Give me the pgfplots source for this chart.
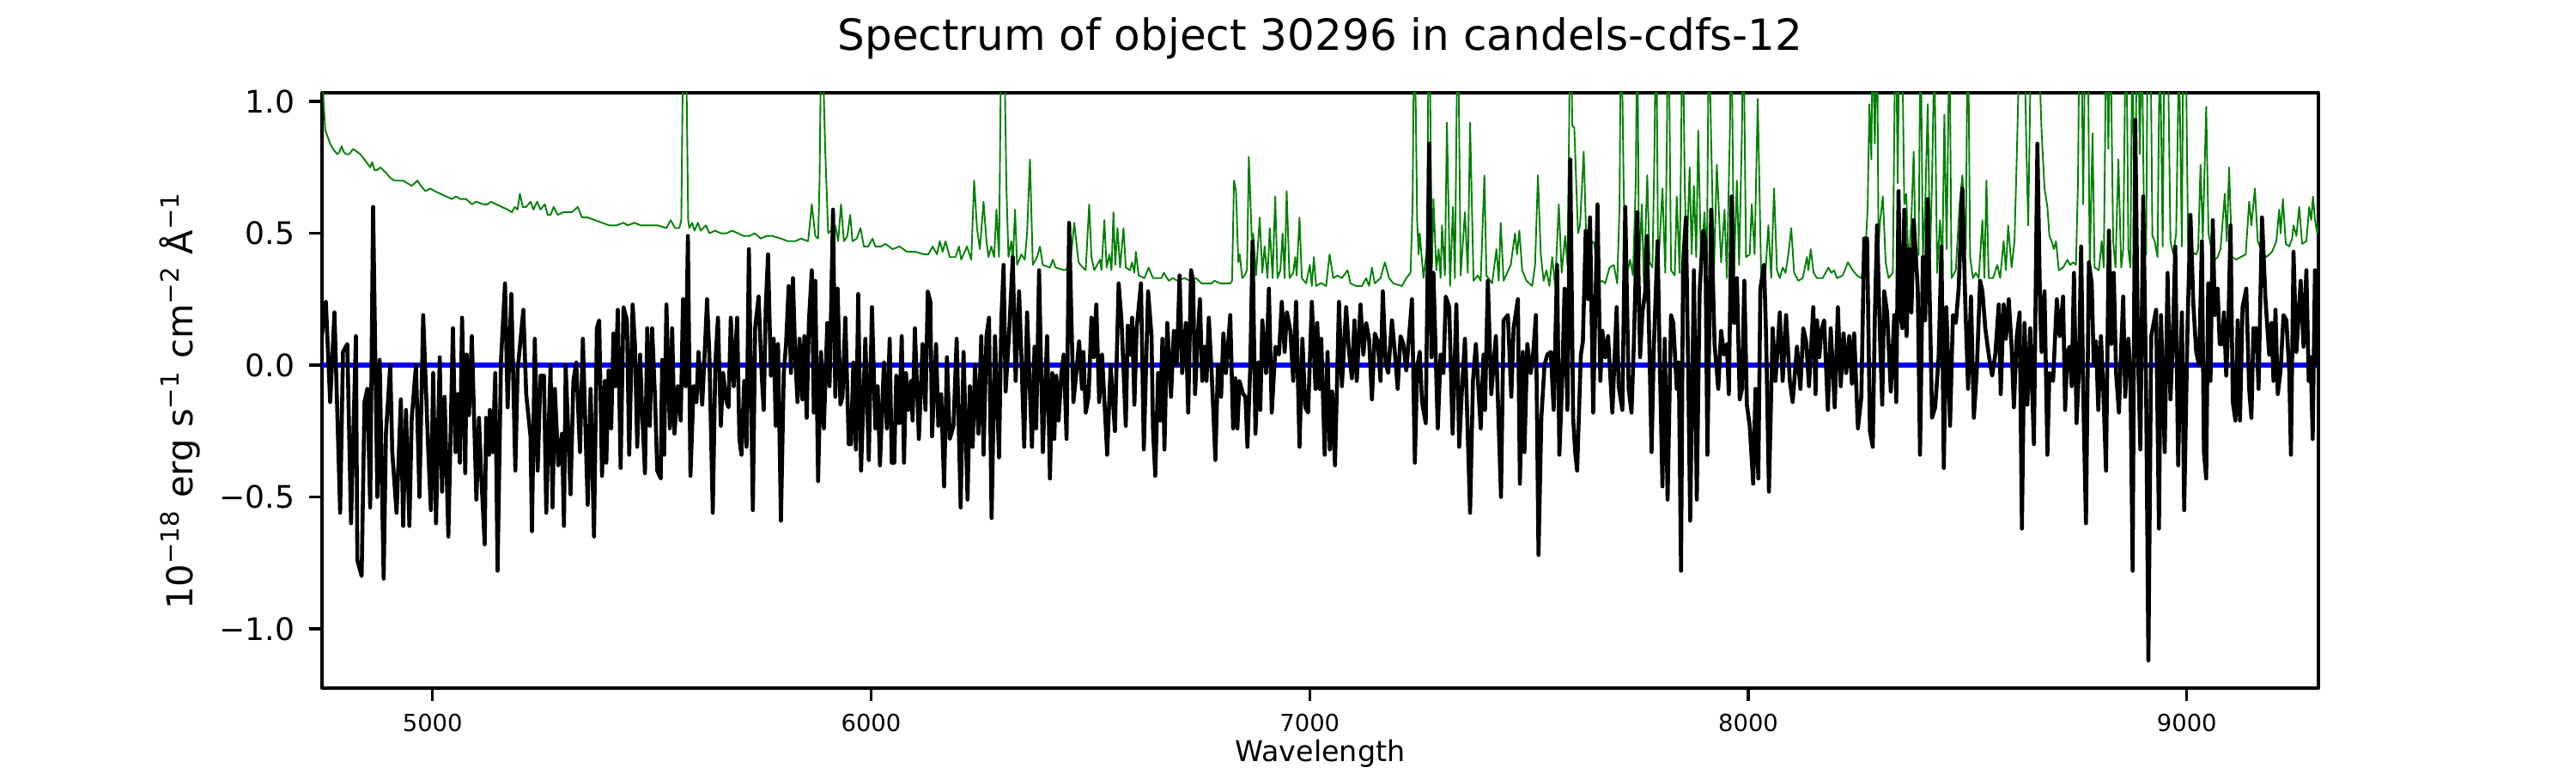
\documentclass[border=0pt]{standalone}
\usepackage{fontspec}
\setmainfont{DejaVu Sans}
\usepackage{pgfplots}
\pgfplotsset{compat=1.18}
\definecolor{mplgreen}{rgb}{0,0.5,0}
\begin{document}
\begin{tikzpicture}
\useasboundingbox (0,0) rectangle (10in,3in);
\begin{axis}[
  at={(1.25in,0.33in)}, anchor=south west,
  scale only axis, width=7.75in, height=2.31in,
  xmin=4748, xmax=9300, ymin=-1.225, ymax=1.033,
  axis line style={line width=0.8bp},
  tick align=outside, tick pos=left,
  major tick length=3.5bp,
  every tick/.style={black, line width=0.8bp},
  /pgf/number format/assume math mode=true,
  xtick={5000,6000,7000,8000,9000},
  xticklabels={5000,6000,7000,8000,9000},
  ytick={-1,-0.5,0,0.5,1},
  yticklabels={−1.0,−0.5,0.0,0.5,1.0},
  xticklabel style={font=\fontsize{6.6}{7}\selectfont, inner sep=0pt, anchor=base, yshift=-8.7bp},
  yticklabel style={font=\fontsize{8.7}{10}\selectfont, inner sep=0pt, anchor=east, xshift=-3.9bp},
  title={Spectrum of object 30296 in candels-cdfs-12},
  title style={at={(0.5,1)}, anchor=base, yshift=6bp, inner sep=0pt, font=\fontsize{12.05}{14}\selectfont},
  xlabel={Wavelength},
  xlabel style={at={(0.5,0)}, anchor=base, yshift=-20.4bp, inner sep=0pt, font=\fontsize{8.03}{9}\selectfont},
  ylabel={10\textsuperscript{−18} erg s\textsuperscript{−1} cm\textsuperscript{−2} Å\textsuperscript{−1}},
  ylabel style={at={(-0.0714,0.4834)}, anchor=center, inner sep=0pt, font=\fontsize{10.04}{12}\selectfont},
  line join=round,
]
% error / noise spectrum
\addplot[mplgreen, line width=0.45bp, line join=round, mark=none] coordinates {
(4747,1.20) (4751.6,1.00) (4755.5,0.89) (4760,0.87) (4766.6,0.84) (4773,0.82) (4782.9,0.80) (4788,0.81) (4792.7,0.83) (4797.2,0.81) (4802.5,0.80) (4810.3,0.80) (4818.8,0.82) (4827.3,0.81) (4835.1,0.80) (4844.9,0.78) (4857.9,0.75) (4862.5,0.77) (4867.7,0.74) (4874.2,0.74) (4880.8,0.75) (4893.8,0.73) (4903.6,0.71) (4913.4,0.70) (4919.9,0.70) (4933,0.70) (4942.8,0.69) (4952.6,0.68) (4965.6,0.70) (4973.4,0.68) (4983.9,0.66) (4995,0.67) (5004.8,0.66) (5017.8,0.65) (5030.9,0.64) (5043.9,0.63) (5053.7,0.64) (5063.5,0.63) (5076.6,0.63) (5089.6,0.61) (5099.4,0.62) (5115.7,0.61) (5125.5,0.61) (5133.3,0.62) (5145,0.61) (5158.1,0.60) (5171.2,0.59) (5181,0.58) (5187.5,0.60) (5194,0.59) (5199.2,0.65) (5205.8,0.60) (5213.6,0.60) (5223.4,0.62) (5230,0.59) (5238.4,0.62) (5246.2,0.59) (5256,0.61) (5262.5,0.57) (5269.1,0.57) (5276.2,0.60) (5285.4,0.57) (5298.4,0.58) (5311.5,0.58)
(5318,0.58) (5331,0.60) (5340.8,0.56) (5353.8,0.56) (5370.2,0.55) (5386.5,0.54) (5402.8,0.53) (5419.1,0.53) (5435.4,0.54) (5445.2,0.53) (5460.2,0.54) (5474.6,0.53) (5487.6,0.53) (5500.7,0.53) (5513.7,0.53) (5533.3,0.52) (5543.1,0.55) (5552.9,0.52) (5562.7,0.52) (5567.2,0.55) (5571.2,1.2) (5575.1,1.6) (5579,1.1) (5582.9,0.55) (5585.5,0.52) (5592,0.54) (5597.3,0.51) (5605.1,0.54) (5611.6,0.51) (5623.4,0.53) (5631.2,0.50) (5644.2,0.51) (5657.3,0.50) (5670.4,0.50) (5683,0.51) (5696.5,0.50) (5709,0.49) (5722.6,0.49) (5735,0.50) (5748,0.48) (5761.7,0.49) (5775,0.49) (5794.4,0.48) (5810,0.47) (5827,0.47) (5840,0.48) (5856.4,0.47) (5864.8,0.61) (5872.7,0.49) (5879.2,0.48)
(5882.5,0.70) (5887.1,1.4) (5891,1.1) (5895.5,0.81) (5902.1,0.50) (5908.6,0.51) (5915.1,0.49) (5918.4,0.53) (5924.9,0.47) (5931.4,0.61) (5938,0.47) (5945.8,0.49) (5952.3,0.57) (5957.5,0.47) (5967.3,0.48) (5975.8,0.52) (5983.6,0.45) (5993.4,0.45) (6003.2,0.48) (6009.7,0.45) (6022.8,0.45) (6032.6,0.46) (6048.9,0.44) (6065.2,0.45) (6081.5,0.43) (6101.1,0.43) (6120.7,0.42) (6130.5,0.42) (6140.3,0.45) (6150.1,0.42) (6156.6,0.47) (6163.1,0.43) (6169.6,0.47) (6179.4,0.41) (6192.5,0.41) (6200.3,0.45) (6205.5,0.40) (6218.6,0.45) (6228.4,0.40) (6234.9,0.70) (6241.4,0.52) (6248,0.44) (6256.4,0.62) (6263,0.47) (6267.5,0.41) (6274.1,0.45) (6280.6,0.41) (6285.8,0.59) (6291.7,0.41) (6296.9,1.3) (6300.8,1.7) (6304.7,1.1) (6308.6,0.67) (6313.2,0.41) (6319.7,0.47) (6323,0.39) (6328.2,0.59) (6332.8,0.38) (6342.6,0.42) (6350.4,0.40) (6355.6,0.50) (6362.2,0.78) (6368.7,0.38) (6378.5,0.41) (6385,0.45) (6391.5,0.38) (6407.8,0.37) (6414.4,0.40) (6420.9,0.37) (6440.5,0.36) (6453.5,0.37)
(6463.2,0.54) (6473,0.39) (6482.8,0.37) (6489.3,0.36) (6497.2,0.61) (6502.4,0.41) (6508.9,0.36) (6522,0.40) (6525.2,0.36) (6531.8,0.55) (6537,0.37) (6543.5,0.42) (6548.1,0.36) (6552.6,0.58) (6556.6,0.38) (6561.8,0.52) (6567.7,0.37) (6575.5,0.52) (6580.7,0.37) (6590.5,0.36) (6595.1,0.39) (6600.3,0.35) (6603.6,0.43) (6610.1,0.34) (6623.1,0.33) (6632.9,0.37) (6642.7,0.33) (6662.3,0.33) (6667.5,0.35) (6678.6,0.32) (6688.4,0.33) (6698.2,0.32) (6714.5,0.33) (6727.5,0.32) (6740.6,0.33) (6753.6,0.31) (6776.5,0.31) (6783,0.32) (6796.1,0.31) (6818.9,0.31) (6823,0.32) (6827.4,0.70) (6832,0.66) (6837.2,0.39) (6840.5,0.42) (6846.3,0.33) (6851.5,0.34) (6857,0.36) (6861.3,0.79) (6867.9,0.48) (6871.1,0.50) (6877.6,0.34) (6886.1,0.56) (6892,0.35) (6897.2,0.45) (6903.7,0.33) (6909,0.52) (6915.5,0.33) (6921.4,0.64) (6926.6,0.33) (6933.1,0.36) (6938.3,0.50) (6942.9,0.33) (6947.5,0.66) (6954,0.33) (6962.5,0.35) (6967.1,0.41) (6970.3,0.34) (6976.8,0.56) (6982.1,0.33) (6991.8,0.31) (7000.3,0.38) (7004.9,0.30) (7009.5,0.41) (7014.7,0.30) (7024.5,0.31)
(7027.7,0.31) (7037.5,0.30) (7045.3,0.42) (7053.8,0.33) (7063.6,0.34) (7073.4,0.33) (7086.4,0.36) (7093,0.31) (7106,0.30) (7119,0.30) (7128.8,0.33) (7135.4,0.30) (7141.9,0.37) (7148.4,0.31) (7161.5,0.33) (7171.3,0.39) (7181,0.33) (7190.8,0.31) (7210.4,0.30) (7220.2,0.33) (7230,0.35) (7234.5,0.60) (7237.8,1.2) (7241.7,1.0) (7245,0.55) (7248.3,0.42) (7250.9,0.50) (7259.4,0.33) (7267.8,0.45) (7272.4,1.6) (7275.7,0.84) (7278.9,0.37) (7282.2,0.63) (7288.7,0.36) (7293.9,0.44) (7298.5,0.33) (7301.8,0.53) (7308.3,0.34) (7312.9,0.92) (7320,0.30) (7326.6,0.60) (7331.1,0.33) (7337.7,1.4) (7344.2,0.34) (7354,0.58) (7360.5,0.35) (7365.7,0.92) (7373.6,0.32) (7383.3,0.34) (7389.9,0.32) (7398.4,0.72) (7402.9,0.34) (7416,0.31) (7425.8,0.44) (7431,0.32) (7435.5,0.54) (7442.1,0.32) (7458.4,0.38) (7468.2,0.50) (7472.8,0.42) (7478,0.51) (7484.5,0.36) (7494.3,0.32) (7507.3,0.30) (7513.9,0.38) (7520.4,0.72) (7526.9,0.42) (7533.4,0.32) (7540,0.36) (7546.5,0.30) (7553,0.41) (7559.6,0.30) (7568,0.61) (7574.5,0.35) (7582.4,0.49) (7587.6,0.38)
(7591.6,0.9) (7594.2,1.5) (7598.7,0.91) (7603.3,0.90) (7611.8,0.50) (7616.4,0.53) (7624.8,0.81) (7631.4,0.43) (7637.9,0.44) (7644.4,0.47) (7649,0.46) (7657.5,0.31) (7667.3,0.32) (7673.8,0.31) (7683.6,0.37) (7693.4,0.38) (7701.2,0.31) (7706.4,0.60) (7709.7,1.3) (7713,1.03) (7716.2,0.64) (7722.7,0.34) (7730.6,0.40) (7737.1,0.34) (7743.6,0.7) (7746.9,1.4) (7750.8,0.35) (7757.3,0.61) (7761.9,0.31) (7769.7,0.72) (7775,0.39) (7781.5,0.37) (7786,0.8) (7790,1.4) (7794.5,0.36) (7804.3,0.67) (7810.8,0.35) (7814.7,0.9) (7817.4,1.5) (7823.9,0.36) (7832.4,0.34) (7836.9,0.64) (7843.5,0.35) (7847.4,0.9) (7850,1.4) (7855.2,0.67) (7859.8,0.41) (7866.3,0.75) (7870.9,0.42) (7876.1,0.68) (7881.3,0.41) (7885.9,0.89) (7892.4,0.38) (7900.2,0.58) (7905.5,0.36) (7910,1.3) (7915.3,0.86) (7921.8,0.36) (7928.3,0.76) (7938.1,0.39) (7945.9,0.59) (7951.1,0.33) (7958.3,0.9) (7960.9,1.4) (7967.5,0.35) (7974,0.70) (7979.2,0.38) (7985.7,0.9) (7988.3,1.4) (7994.9,0.41) (8003.3,0.42) (8007.9,0.61) (8014.4,0.42) (8021.6,1.01) (8029.5,0.33) (8039.2,0.35) (8045.8,0.53) (8052.3,0.33) (8058.8,0.67) (8065.4,0.36) (8071.9,0.33) (8078.4,0.37) (8084.9,0.35) (8091.4,0.42) (8098,0.52) (8104.5,0.35) (8114.3,0.32) (8124.1,0.33) (8133.9,0.41) (8137.1,0.36) (8142.4,0.44) (8148.9,0.35) (8156.7,0.33)
(8169.7,0.33) (8179.5,0.36) (8182.8,0.37) (8189.3,0.35) (8195.8,0.36) (8202.3,0.33) (8215.4,0.34) (8227.1,0.39) (8238.2,0.36) (8248,0.34) (8257.8,0.33) (8267.6,0.44) (8272.2,0.6) (8276.1,0.99) (8280.6,0.78) (8283.9,1.3) (8288.5,0.84) (8293.7,1.3) (8297,0.44) (8300.2,0.54) (8306.8,0.64) (8313.3,0.39) (8319.8,0.33) (8329.6,0.35) (8336.1,1.4) (8340.7,0.69) (8345.9,1.5) (8351.1,1.2) (8355.7,0.61) (8360.3,0.65) (8365.5,0.36) (8372,0.56) (8377.2,0.81) (8381.8,0.41) (8388.3,0.42) (8392.9,1.3) (8398.1,0.41) (8403.3,0.60) (8409.2,0.99) (8414.4,0.41) (8419,0.70) (8424.2,1.2) (8430.7,0.35) (8437.3,0.55) (8442.5,0.38) (8447.1,0.95) (8452.3,0.44) (8458.8,1.3) (8463.4,0.33) (8473.2,0.36) (8481.7,0.61) (8488.2,0.72) (8496,0.44) (8500.6,1.4) (8505.8,0.41) (8512.3,0.33) (8518.9,0.35) (8525.4,0.33) (8533.9,0.55) (8538.4,0.33) (8543,0.70) (8548.2,0.33) (8558,0.33) (8567.8,0.38) (8574.3,0.33) (8582.2,0.47) (8587.4,0.36) (8592.6,0.53) (8600.4,0.37) (8607,0.47) (8612.2,0.79) (8616.7,1.1) (8623.3,1.3) (8629.8,1.2) (8634.4,0.80) (8638.3,0.53) (8643.5,1.1) (8649.4,1.2) (8655.9,1.1) (8662.4,1.2) (8668.9,0.88) (8675.5,0.67) (8682,0.60) (8686.6,0.49) (8691.8,0.47) (8697,0.44) (8701.6,0.47) (8708.1,0.36) (8717.9,0.37)
(8727.6,0.40) (8734.1,0.38) (8740.7,0.39) (8747.2,0.38) (8751.8,0.7) (8755,1.3) (8760.2,1.2) (8763.5,0.61) (8768.7,1.3) (8774.6,1.2) (8778.5,0.36) (8785,0.88) (8789.6,0.37) (8799.4,0.36) (8805.9,0.47) (8810.5,0.37) (8817,1.4) (8820.9,0.82) (8825.5,1.3) (8832,0.47) (8837.3,0.37) (8843.8,0.78) (8850.3,0.37) (8854.9,0.44) (8861.4,1.4) (8866.6,0.44) (8871.2,0.37) (8875.8,1.3) (8881,0.42) (8887.5,1.5) (8892.7,0.8) (8897.3,1.3) (8902.5,0.52) (8907.1,0.42) (8910.3,1.2) (8916.9,1.3) (8921.4,0.49) (8926.7,0.47) (8933.2,0.41) (8938.4,1.3) (8944.9,0.45) (8949.5,1.4) (8956,1.3) (8962.6,0.47) (8969.1,0.42) (8975.6,0.50) (8982.1,1.2) (8988.7,0.45) (8991.9,1.3) (8998.4,1.1) (9003,0.42) (9011.5,0.43) (9021.3,0.42) (9025.9,0.44) (9031.1,0.76) (9036.3,0.48) (9044.1,0.98) (9049.3,0.50) (9057.2,0.43) (9063.7,0.40) (9070.2,0.41) (9076.8,0.44) (9086.5,0.65) (9091.1,0.47) (9096.3,0.75) (9102.9,0.41) (9112.6,0.40) (9122.4,0.41) (9134.2,0.42) (9142,0.62) (9147.2,0.53) (9155.1,0.67) (9161.6,0.47) (9171.4,0.43) (9181.2,0.41) (9194.2,0.43) (9204,0.47) (9210.5,0.59) (9213.8,0.50) (9219,0.63) (9225.5,0.46) (9233.4,0.45) (9239.9,0.48) (9243.2,0.53) (9249.7,0.49) (9256.2,0.60) (9262.8,0.46) (9272.5,0.47) (9279,0.60) (9283.6,0.55) (9287.5,0.64) (9292.1,0.55) (9297.3,0.50) (9302,0.55)
};
% model
\addplot[blue, line width=1.5bp, mark=none] coordinates {(4740,0) (9310,0)};
% flux
\addplot[black, line width=1.1bp, line join=round, mark=none] coordinates {
(4747,0.10) (4756.8,0.24) (4766.6,-0.14) (4776.4,0.20) (4789.4,-0.56) (4795.9,0.05) (4805.7,0.08) (4814.2,-0.60) (4825.3,0.11) (4828.6,-0.74) (4838.4,-0.80) (4844.9,-0.14) (4851.4,-0.09) (4857.9,-0.54) (4864.5,0.60) (4874.2,-0.50) (4879.5,0.02) (4888.6,-0.81) (4893.8,-0.26) (4903.6,0.00) (4908.2,-0.33) (4918.0,-0.56) (4927.8,-0.13) (4933.0,-0.61) (4939.5,-0.17) (4947.3,-0.61) (4952.6,-0.20) (4962.3,0.00) (4970.2,-0.50) (4978.7,0.19) (4990.4,-0.33) (4996.3,-0.55) (5001.5,-0.03) (5008.0,-0.60) (5016.5,0.03) (5021.7,-0.48) (5027.6,-0.12) (5036.1,-0.65) (5046.5,0.14) (5052.4,-0.33) (5057.0,-0.11) (5062.2,-0.37) (5067.4,0.18) (5074.6,-0.41) (5077.9,0.04) (5083.1,-0.19) (5089.6,0.11) (5100.0,-0.51) (5105.9,-0.20) (5111.1,-0.42) (5119.0,-0.68) (5122.2,-0.20) (5128.8,-0.34) (5130.7,-0.17) (5137.3,-0.33) (5143.1,-0.03) (5148.3,-0.78) (5156.2,0.02) (5165.3,0.31) (5171.2,-0.16) (5179.7,0.27) (5188.8,-0.40) (5194.0,-0.02) (5207.1,0.21) (5213.6,-0.11) (5223.4,-0.27) (5226.7,-0.63) (5233.2,0.10) (5239.7,-0.40) (5246.2,-0.04) (5254.1,-0.04) (5259.3,-0.56) (5269.1,0.00) (5273.6,-0.54) (5278.9,-0.09) (5286.7,-0.38) (5295.2,-0.26) (5299.7,-0.61) (5303.6,0.00)
(5314.7,-0.49) (5321.2,-0.06) (5327.7,0.01) (5336.2,-0.33) (5342.8,0.10) (5353.8,-0.53) (5360.4,-0.09) (5368.2,-0.65) (5374.7,0.14) (5380.0,0.17) (5386.5,-0.42) (5393.0,-0.06) (5396.3,-0.37) (5401.5,-0.02) (5407.4,-0.24) (5412.6,0.12) (5417.2,-0.08) (5422.4,0.21) (5428.9,-0.39) (5435.4,0.22) (5443.3,0.17) (5448.5,-0.34) (5456.3,0.23) (5461.5,0.08) (5466.7,-0.31) (5473.3,0.04) (5477.8,-0.17) (5484.4,-0.41) (5489.6,0.14) (5495.5,-0.23) (5500.7,0.14) (5507.2,-0.12) (5512.4,-0.40) (5520.3,-0.43) (5523.5,0.02) (5528.1,-0.34) (5533.3,0.23) (5541.1,-0.24) (5546.4,0.14) (5551.6,-0.26) (5559.4,-0.08) (5565.9,-0.21) (5571.2,0.25) (5577.0,-0.08) (5582.3,0.49) (5588.1,-0.42) (5595.3,-0.08) (5601.8,-0.14) (5606.4,0.05) (5614.9,-0.15) (5620.1,0.03) (5626.0,0.25) (5631.2,0.04) (5639.0,-0.56) (5644.9,0.01) (5650.8,0.18) (5657.3,-0.23) (5662.5,-0.03) (5670.4,-0.14) (5674.9,-0.16) (5680.1,0.18) (5686.7,-0.08) (5694.5,0.18) (5699.7,-0.28) (5704.3,-0.34) (5710.8,-0.06) (5716.0,-0.31) (5721.3,0.44) (5730.4,-0.55) (5735.6,0.14) (5743.5,0.26) (5750.6,-0.04) (5755.2,-0.17) (5759.8,0.22) (5765.0,0.42) (5771.5,-0.04) (5778.0,0.10) (5782.6,-0.23) (5787.8,0.08) (5794.4,-0.59) (5800.9,-0.03) (5806.1,0.08) (5812.0,0.30) (5817.2,-0.03) (5821.8,0.33) (5827.0,0.03) (5832.2,-0.14) (5836.8,0.10) (5843.3,-0.13) (5847.9,0.11) (5853.1,-0.20) (5858.3,0.17) (5864.8,0.36) (5869.4,-0.18)
(5872.7,0.32) (5879.2,-0.44) (5885.8,0.05) (5892.3,-0.24) (5900.1,0.16) (5905.3,-0.08) (5913.2,0.59) (5918.4,-0.12) (5923.6,0.29) (5930.1,-0.15) (5934.7,-0.12) (5941.2,0.18) (5949.1,-0.30) (5954.3,-0.30) (5959.5,0.01) (5965.4,-0.32) (5970.6,0.27) (5977.1,-0.40) (5986.9,0.10) (5994.7,-0.36) (6001.9,0.22) (6009.7,-0.24) (6015.0,-0.08) (6020.2,-0.38) (6029.3,0.01) (6035.9,-0.24) (6042.4,0.10) (6047.0,-0.37) (6052.8,-0.37) (6057.4,-0.04) (6063.9,-0.22) (6069.8,0.11) (6075.0,-0.37) (6079.6,-0.03) (6084.8,-0.17) (6091.3,-0.06) (6094.6,-0.21) (6099.8,0.14) (6108.9,-0.28) (6117.4,0.08) (6124.0,-0.17) (6129.2,0.28) (6135.1,0.24) (6139.0,-0.27) (6148.1,0.08) (6153.3,-0.23) (6159.8,-0.11) (6166.4,-0.46) (6172.9,0.03) (6179.4,-0.28) (6187.9,-0.23) (6195.1,0.10) (6204.2,-0.54) (6210.8,0.05) (6219.9,-0.51) (6225.1,-0.08) (6231.6,-0.31) (6236.9,0.00) (6244.7,-0.26) (6251.2,0.11) (6256.4,-0.34) (6263.0,0.11) (6268.8,0.18) (6274.7,-0.58) (6282.5,0.11) (6291.7,-0.35) (6296.9,0.17) (6302.1,0.38) (6306.7,-0.10) (6315.2,0.14) (6323.0,0.41) (6329.5,-0.06) (6337.4,0.28) (6342.6,0.04) (6349.1,-0.31) (6355.6,0.20) (6366.7,-0.31) (6372.6,0.07) (6376.5,-0.24) (6383.0,0.36) (6391.5,-0.33) (6401.3,0.11) (6407.8,-0.43) (6413.1,-0.03) (6417.6,-0.28) (6422.2,-0.04) (6427.4,-0.21) (6433.9,-0.03) (6439.2,0.04) (6445.7,-0.28)
(6451.5,0.54) (6461.3,-0.14) (6467.8,-0.03) (6474.3,0.09) (6480.9,-0.09) (6484.1,0.05) (6489.3,-0.18) (6495.9,-0.12) (6502.4,0.18) (6507.6,0.03) (6513.5,0.23) (6520.0,-0.14) (6526.5,0.04) (6538.3,-0.34) (6546.1,0.00) (6555.9,-0.25) (6564.4,0.31) (6570.9,0.17) (6580.7,-0.23) (6585.3,0.15) (6591.8,0.04) (6595.1,0.18) (6600.3,-0.15) (6605.5,0.14) (6615.3,0.31) (6621.8,-0.32) (6631.6,0.28) (6639.4,0.11) (6642.7,-0.24) (6647.9,-0.42) (6654.5,-0.03) (6659.0,-0.21) (6664.2,0.10) (6668.8,-0.32) (6675.3,0.16) (6683.8,-0.12) (6690.3,0.13) (6696.9,0.00) (6703.4,0.34) (6709.3,-0.03) (6717.7,0.16) (6723.0,-0.18) (6729.5,0.36) (6734.1,0.32) (6738.6,-0.11) (6743.9,0.08) (6749.7,0.25) (6755.0,-0.06) (6760.2,0.07) (6764.7,-0.06) (6770.0,0.18) (6776.5,-0.03) (6785.0,-0.36) (6790.8,0.00) (6798.0,-0.12) (6803.2,0.12) (6809.1,-0.03) (6818.9,0.19) (6825.4,-0.24) (6830.6,-0.05) (6835.2,-0.24) (6839.8,-0.06) (6848.3,-0.11) (6853.5,-0.12) (6858.1,-0.31) (6864.6,0.00) (6869.8,0.47) (6876.3,-0.26) (6882.9,0.01) (6887.4,-0.17) (6892.0,0.17) (6900.5,-0.03) (6907.0,0.29) (6913.5,-0.18) (6922.0,0.07) (6929.9,0.04) (6936.4,0.24) (6942.9,0.05) (6948.1,0.20) (6956.0,0.13) (6962.5,-0.06) (6969.0,0.24) (6976.8,-0.31) (6983.4,0.10) (6989.9,-0.16) (6996.4,-0.18) (7004.9,0.24)
(7013.3,-0.09) (7017.2,0.16) (7022.5,-0.09) (7026.4,0.10) (7034.2,-0.34) (7040.7,0.05) (7046.0,-0.32) (7051.2,-0.10) (7057.7,-0.38) (7066.8,0.24) (7073.4,-0.08) (7083.1,0.22) (7089.7,0.05) (7096.2,-0.05) (7102.1,0.17) (7107.3,-0.06) (7115.8,0.23) (7122.3,0.04) (7128.8,0.16) (7135.4,0.10) (7141.9,-0.13) (7148.4,0.12) (7155.0,0.09) (7161.5,-0.06) (7166.7,0.28) (7173.2,0.01) (7179.1,-0.03) (7187.6,0.17) (7194.1,0.05) (7200.6,-0.09) (7207.1,0.11) (7213.7,0.08) (7220.2,-0.02) (7226.7,0.11) (7233.2,0.25) (7239.8,-0.37) (7245.0,-0.01) (7250.9,0.05) (7256.1,-0.14) (7264.6,-0.22) (7272.4,0.84) (7277.6,0.03) (7282.2,0.35) (7292.0,-0.24) (7298.5,0.04) (7305.0,-0.03) (7310.3,0.26) (7318.1,0.22) (7325.9,-0.26) (7334.4,0.23) (7340.9,-0.31) (7347.5,-0.08) (7354.0,0.10) (7365.7,-0.56) (7372.3,-0.06) (7378.8,0.08) (7389.9,-0.24) (7396.4,0.04) (7399.7,-0.17) (7406.2,0.32) (7414.0,-0.11) (7424.5,0.11) (7436.2,-0.50) (7442.1,0.17) (7451.9,0.19) (7459.7,-0.12) (7464.9,0.14) (7474.7,0.25) (7479.3,-0.45) (7485.8,0.05) (7489.7,-0.33) (7496.2,0.08) (7504.1,-0.03) (7509.3,0.04) (7515.8,0.19) (7521.7,-0.72) (7528.2,-0.20) (7535.4,0.00) (7541.9,0.04) (7549.8,0.05) (7556.3,-0.17) (7564.1,0.38) (7569.3,-0.34) (7575.9,-0.05) (7581.1,0.29) (7587.6,-0.17)
(7594.2,0.78) (7600.7,-0.20) (7605.3,-0.33) (7609.8,-0.40) (7618.3,0.04) (7622.9,0.09) (7629.4,0.51) (7634.6,0.25) (7639.2,0.56) (7646.4,-0.18) (7656.2,0.61) (7662.7,-0.06) (7667.3,0.13) (7673.8,0.03) (7680.3,0.11) (7690.1,-0.18) (7699.9,0.22) (7704.5,-0.08) (7712.9,-0.17) (7719.5,0.60) (7727.3,-0.09) (7733.8,-0.18) (7739.1,0.08) (7746.9,0.58) (7753.4,0.03) (7758.6,0.20) (7765.2,0.28) (7769.1,0.49) (7774.9,0.04) (7779.5,-0.33) (7784.7,0.07) (7793.2,0.47) (7797.8,0.05) (7804.3,-0.46) (7809.5,0.10) (7816.1,-0.51) (7823.9,0.19) (7829.1,0.16) (7836.9,-0.09) (7841.5,0.01) (7846.7,-0.78) (7851.3,0.38) (7857.8,0.56) (7863.0,-0.02) (7867.6,-0.59) (7876.1,0.36) (7882.6,-0.51) (7889.1,0.28) (7897.0,0.51) (7902.2,0.47) (7906.8,-0.34) (7915.3,0.59) (7923.1,0.08) (7931.6,-0.09) (7938.1,0.13) (7944.6,0.04) (7951.1,0.08) (7955.7,-0.11) (7962.2,0.64) (7967.5,0.16) (7974.0,0.33) (7980.5,-0.13) (7985.7,-0.09) (7991.0,0.32) (7996.8,-0.15) (8003.3,-0.23) (8011.2,-0.45) (8016.4,-0.09) (8022.9,-0.43) (8027.5,0.29) (8036.0,0.38) (8040.6,0.11) (8047.1,-0.48) (8055.6,0.14) (8062.1,-0.06) (8071.9,0.20) (8078.4,-0.06) (8086.2,0.19) (8094.7,-0.06) (8101.2,-0.14) (8111.0,0.07) (8118.9,-0.09) (8125.4,0.14) (8131.9,0.09) (8138.4,-0.08) (8148.2,0.22)
(8153.4,-0.11) (8156.7,0.17) (8161.9,0.03) (8166.4,0.13) (8173.0,0.17) (8181.4,-0.17) (8188.0,0.14) (8197.1,-0.16) (8204.3,0.22) (8210.8,-0.08) (8217.3,0.12) (8223.2,-0.03) (8230.4,0.11) (8236.3,-0.07) (8241.5,0.12) (8250.0,-0.24) (8257.8,-0.12) (8264.3,0.48) (8270.9,0.48) (8277.4,-0.25) (8283.9,-0.31) (8288.5,0.18) (8293.7,0.53) (8300.2,0.11) (8305.4,-0.15) (8310.0,0.28) (8316.5,0.20) (8325.0,-0.10) (8332.9,0.19) (8337.4,-0.14) (8342.6,0.66) (8347.2,0.19) (8351.1,0.14) (8355.7,0.59) (8360.9,0.11) (8366.8,0.44) (8372.0,0.20) (8377.2,0.55) (8386.4,0.29) (8391.6,-0.34) (8398.1,0.41) (8403.3,0.17) (8409.2,0.63) (8414.4,0.20) (8419.0,-0.20) (8426.2,-0.16) (8434.0,0.03) (8440.5,0.45) (8445.8,-0.39) (8451.6,0.22) (8460.1,-0.23) (8466.6,0.19) (8473.2,0.16) (8479.7,0.29) (8488.2,0.67) (8494.7,0.24) (8501.2,-0.09) (8507.8,0.26) (8514.3,-0.20) (8520.8,-0.03) (8528.6,0.32) (8533.9,0.28) (8540.4,0.14) (8548.2,0.04) (8556.0,-0.04) (8563.2,0.04) (8571.1,0.23) (8575.6,-0.11) (8582.2,0.23) (8587.4,0.10) (8593.9,0.25) (8600.4,0.07) (8605.6,-0.16) (8612.2,0.11) (8618.7,0.20) (8623.9,-0.62) (8629.8,0.16) (8636.3,-0.15) (8642.8,0.14) (8651.3,-0.30) (8659.2,0.84) (8665.7,0.20) (8668.9,0.05) (8675.5,0.28) (8682.0,-0.34) (8686.6,-0.03) (8695.0,-0.06) (8703.5,0.25) (8710.0,0.11)
(8717.8,0.26) (8722.4,-0.17) (8727.6,0.05) (8732.8,0.07) (8737.4,-0.08) (8742.6,0.35) (8748.5,-0.22) (8753.7,-0.03) (8758.9,0.45) (8764.8,-0.20) (8770.0,-0.60) (8776.6,0.39) (8783.1,0.31) (8787.7,0.00) (8792.9,0.09) (8798.1,-0.17) (8804.0,0.11) (8809.2,-0.08) (8815.7,-0.40) (8822.2,0.51) (8827.5,0.08) (8833.3,0.35) (8838.6,-0.03) (8845.1,-0.18) (8849.7,0.04) (8854.9,0.26) (8859.4,-0.12) (8866.6,0.10) (8871.2,-0.03) (8876.4,-0.78) (8882.3,0.93) (8888.8,0.03) (8894.0,-0.32) (8900.5,0.64) (8907.1,-0.09) (8912.3,-1.12) (8918.8,0.11) (8925.4,0.17) (8929.9,0.21) (8936.4,-0.62) (8941.0,0.19) (8949.5,-0.33) (8956.0,0.35) (8962.6,-0.13) (8967.8,0.08) (8973.6,0.45) (8980.2,-0.38) (8984.1,-0.06) (8988.7,0.20) (8993.9,-0.55) (9001.7,0.16) (9008.2,0.57) (9014.8,0.23) (9021.3,0.05) (9027.8,0.00) (9034.3,0.47) (9038.9,-0.33) (9044.1,-0.43) (9048.7,0.31) (9053.9,-0.06) (9059.1,0.55) (9063.7,0.19) (9070.2,0.29) (9074.8,0.08) (9080.0,0.08) (9084.6,0.20) (9089.8,-0.04) (9095.0,0.18) (9099.6,0.53) (9104.8,-0.14) (9110.7,-0.21) (9115.9,0.17) (9121.1,-0.21) (9127.0,0.22) (9135.5,0.29) (9142.0,-0.09) (9147.2,-0.20) (9151.8,0.14) (9158.3,0.14) (9163.5,-0.09) (9171.4,0.56) (9179.2,0.25) (9187.7,0.04) (9192.9,0.16) (9197.5,-0.06) (9202.1,0.21) (9207.3,-0.11) (9213.8,-0.02) (9220.3,0.19) (9226.9,0.17) (9233.4,-0.02) (9237.3,-0.34) (9243.2,0.43) (9249.7,0.05) (9254.9,0.19) (9259.5,0.32) (9266.0,0.07) (9272.5,0.36) (9277.8,-0.06) (9282.3,0.03) (9286.9,-0.28) (9292.1,0.36) (9298.6,0.00) (9302,0.30)
};
\end{axis}
\end{tikzpicture}
\end{document}
